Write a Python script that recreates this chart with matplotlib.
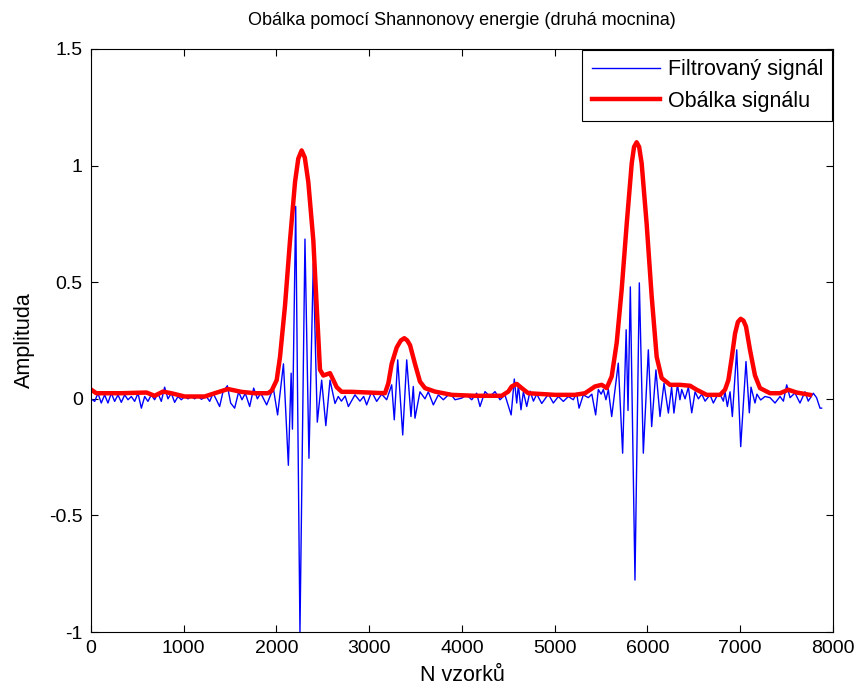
"""
Obálka filtrovaného signálu pomocí Shannonovy energie (druhá mocnina).
Hodnoty odečtené z grafu: extrémy filtrovaného signálu a body obálky.
"""
import matplotlib
matplotlib.use("Agg")
import matplotlib.pyplot as plt

plt.rcParams["font.family"] = ["Liberation Sans", "DejaVu Sans"]

# filtrovaný signál (vzorek, amplituda) - extrémy
sig_n = [0, 40, 75, 111, 147, 183, 219, 255, 291, 327, 363, 399, 435, 471,
         507, 543, 579, 614, 650, 686, 722, 758, 794, 830, 866, 902, 938,
         974, 1010, 1046, 1082, 1118, 1154, 1190, 1244, 1280, 1316, 1352,
         1387, 1423, 1470, 1506, 1549, 1592, 1628, 1664, 1711, 1754, 1794,
         1830, 1894, 1930, 1966, 2012, 2075, 2128, 2158, 2172, 2207, 2253,
         2307, 2350, 2397, 2440, 2487, 2532, 2577, 2631, 2666, 2700, 2740,
         2775, 2846, 2900, 2940, 2972, 3026, 3080, 3134, 3188, 3242, 3270,
         3307, 3361, 3404, 3450, 3475, 3493, 3547, 3601, 3637, 3691, 3745,
         3799, 3871, 3925, 3997, 4051, 4105, 4158, 4194, 4248, 4302, 4356,
         4410, 4463, 4530, 4564, 4590, 4608, 4636, 4662, 4698, 4734, 4770,
         4806, 4860, 4931, 4985, 5039, 5093, 5147, 5200, 5236, 5262, 5308,
         5362, 5400, 5441, 5470, 5500, 5524, 5552, 5578, 5614, 5685, 5732,
         5770, 5790, 5815, 5865, 5912, 5955, 6009, 6045, 6091, 6135, 6178,
         6225, 6260, 6285, 6323, 6350, 6369, 6405, 6441, 6477, 6513, 6549,
         6585, 6621, 6674, 6710, 6746, 6782, 6818, 6836, 6861, 6890, 6915,
         6962, 7005, 7062, 7098, 7116, 7159, 7180, 7220, 7267, 7321, 7375,
         7429, 7465, 7501, 7537, 7590, 7644, 7698, 7733, 7788, 7823, 7860,
         7877]
sig_v = [0.000, -0.011, 0.024, -0.018, 0.017, -0.018, 0.024, -0.011, 0.017,
         -0.015, 0.017, -0.004, 0.010, -0.011, 0.024, -0.040, 0.010, -0.011,
         0.017, -0.004, 0.024, -0.011, 0.050, 0.000, 0.024, -0.015, 0.010,
         -0.004, 0.010, 0.000, 0.010, 0.000, 0.012, -0.002, 0.010, -0.011,
         0.024, -0.004, -0.033, 0.030, 0.056, -0.018, -0.040, 0.030, -0.004,
         0.024, -0.033, 0.046, 0.000, 0.024, -0.026, 0.010, 0.046, -0.069,
         0.150, -0.285, 0.110, -0.130, 0.825, -1.000, 0.685, -0.255, 0.580,
         -0.100, 0.080, -0.115, 0.080, -0.020, 0.010, -0.010, 0.012, -0.033,
         0.017, -0.010, 0.010, -0.026, 0.031, -0.011, 0.020, -0.004, 0.060,
         -0.090, 0.167, -0.155, 0.167, -0.076, 0.053, -0.083, 0.030, 0.000,
         0.030, -0.026, 0.017, -0.004, 0.024, -0.004, 0.003, 0.017, -0.004,
         0.024, -0.033, 0.031, 0.010, 0.031, -0.004, 0.017, -0.069, 0.085,
         -0.018, 0.060, -0.047, 0.030, -0.033, 0.033, -0.010, 0.020, -0.020,
         0.020, -0.018, 0.010, -0.011, 0.010, -0.004, 0.024, -0.040, 0.017,
         0.005, 0.020, -0.069, 0.040, 0.020, 0.040, -0.004, 0.040, -0.076,
         0.153, -0.233, 0.296, -0.050, 0.480, -0.777, 0.497, -0.233, 0.210,
         -0.119, 0.124, -0.076, 0.067, -0.061, 0.050, -0.061, 0.060, -0.004,
         0.040, 0.000, 0.050, -0.060, 0.030, 0.000, 0.020, -0.010, 0.017,
         -0.018, 0.010, 0.020, -0.010, 0.030, -0.033, 0.030, -0.076, 0.210,
         -0.205, 0.160, -0.060, 0.050, -0.018, 0.020, -0.005, 0.010, 0.005,
         -0.018, 0.010, -0.010, 0.060, 0.005, 0.025, -0.018, 0.030, -0.010,
         0.024, 0.005, -0.040, -0.040]

# obálka signálu
env_n = [0, 57, 327, 598, 686, 776, 866, 1010, 1226, 1334, 1477, 1620, 1765,
         1908, 1948, 2002, 2038, 2092, 2146, 2200, 2235, 2271, 2305, 2343,
         2397, 2433, 2469, 2505, 2577, 2649, 2703, 2811, 3170, 3206, 3242,
         3296, 3340, 3378, 3410, 3440, 3493, 3547, 3601, 3709, 3889, 4140,
         4428, 4499, 4536, 4590, 4644, 4715, 5003, 5218, 5326, 5434, 5506,
         5560, 5614, 5668, 5722, 5776, 5830, 5855, 5883, 5910, 5937, 5991,
         6045, 6099, 6153, 6243, 6351, 6459, 6530, 6638, 6782, 6836, 6872,
         6908, 6944, 6975, 7005, 7035, 7062, 7105, 7159, 7213, 7321, 7429,
         7518, 7608, 7752]
env_v = [0.040, 0.024, 0.024, 0.027, 0.013, 0.031, 0.024, 0.010, 0.010,
         0.024, 0.042, 0.030, 0.024, 0.024, 0.035, 0.080, 0.180, 0.400,
         0.680, 0.930, 1.030, 1.065, 1.035, 0.930, 0.680, 0.400, 0.125,
         0.100, 0.110, 0.050, 0.030, 0.030, 0.024, 0.067, 0.150, 0.220,
         0.250, 0.260, 0.250, 0.230, 0.150, 0.074, 0.046, 0.031, 0.017,
         0.013, 0.013, 0.031, 0.053, 0.064, 0.046, 0.024, 0.017, 0.017,
         0.024, 0.053, 0.060, 0.046, 0.096, 0.240, 0.470, 0.750, 1.010,
         1.080, 1.100, 1.080, 1.010, 0.750, 0.440, 0.180, 0.089, 0.060,
         0.060, 0.056, 0.039, 0.017, 0.017, 0.039, 0.080, 0.175, 0.280,
         0.330, 0.343, 0.335, 0.310, 0.210, 0.100, 0.046, 0.024, 0.024,
         0.039, 0.027, 0.017]

x_ticks = [0, 1000, 2000, 3000, 4000, 5000, 6000, 7000, 8000]
y_ticks = [-1, -0.5, 0, 0.5, 1, 1.5]
y_ticklabels = ["-1", "-0.5", "0", "0.5", "1", "1.5"]

fig = plt.figure(figsize=(8.6, 6.9), dpi=100)
ax = fig.add_axes([0.1058, 0.084, 0.8628, 0.845])

ax.plot(sig_n, sig_v, color="blue", lw=1.0, label="Filtrovaný signál")
ax.plot(env_n, env_v, color="red", lw=3.2, label="Obálka signálu")

ax.set_xlim(0, 8000)
ax.set_ylim(-1, 1.5)
ax.set_xticks(x_ticks)
ax.set_yticks(y_ticks)
ax.set_yticklabels(y_ticklabels)
ax.tick_params(direction="in", top=True, right=True, length=5,
               labelsize=14, width=0.8, pad=6)
for s in ax.spines.values():
    s.set_linewidth(0.8)

ax.set_title("Obálka pomocí Shannonovy energie (druhá mocnina)",
             fontsize=13, pad=17)
ax.set_xlabel("N vzorků", fontsize=15.5)
ax.set_ylabel("Amplituda", fontsize=15.5)
ax.xaxis.set_label_coords(0.5, -0.056)
ax.yaxis.set_label_coords(-0.076, 0.5)

leg = ax.legend(loc="upper right", fontsize=15.5, handlelength=3.2,
                fancybox=False, framealpha=1, edgecolor="black",
                borderaxespad=0.05, borderpad=0.42, labelspacing=0.5,
                handletextpad=0.33)
leg.get_frame().set_linewidth(0.8)

plt.savefig("out.png", dpi=100)
print("Saved out.png")
